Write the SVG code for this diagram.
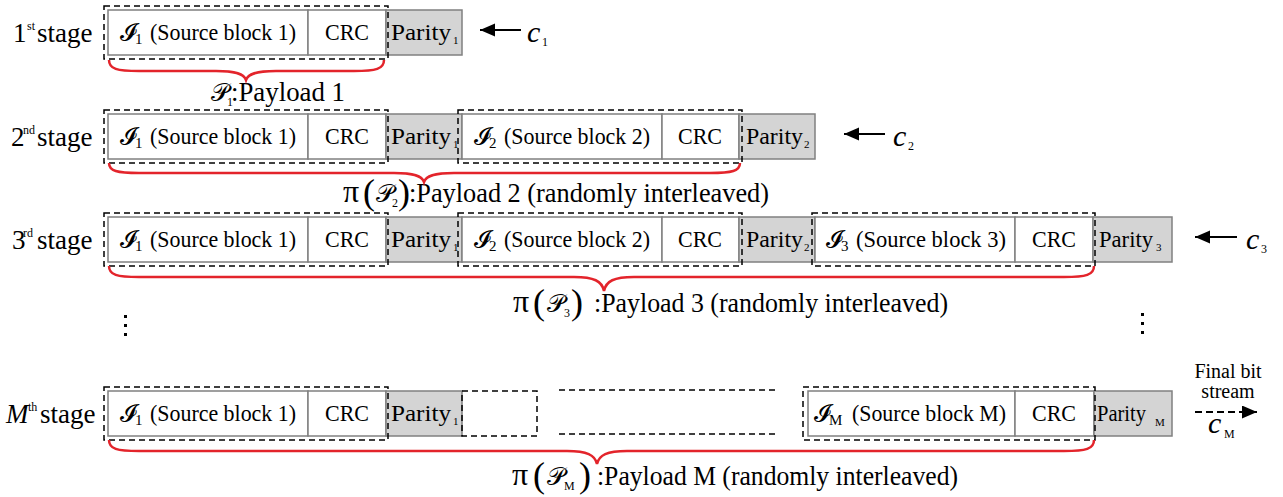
<svg xmlns="http://www.w3.org/2000/svg" width="1283" height="497" viewBox="0 0 1283 497">
<defs>
<style>
text{font-family:"Liberation Serif","Times New Roman",serif;fill:#000}
.cell{fill:#fff;stroke:#808080;stroke-width:1.5}
.par{fill:#d4d4d4;stroke:#808080;stroke-width:1.5}
.dash{fill:none;stroke:#000;stroke-width:1.5;stroke-dasharray:6 4}
.brace{fill:none;stroke:#e3242b;stroke-width:2.5}
.stg{font-size:27px}
.sup{font-size:12px}
.ct{font-size:24px}
.cal{font-family:"DejaVu Sans","Noto Sans",sans-serif;font-size:24px}
.calp{font-family:"DejaVu Sans","Noto Sans",sans-serif;font-size:25px}
.sd{font-size:15px}
.pt{font-size:24px}
.ps{font-size:11px}
.lab{font-size:28px}
.pi{font-size:32px}
.bp{font-size:36px}
.ls{font-size:12px}
.ci{font-style:italic;font-size:30px}
.arr{stroke:#000;stroke-width:2;fill:none}
.dots{fill:#000}
</style>
<marker id="ah" markerUnits="userSpaceOnUse" markerWidth="16" markerHeight="14" refX="15" refY="6.5" orient="auto">
<path d="M0,0 L15,6.5 L0,13 z" fill="#000"/>
</marker>
</defs>

<!-- Stage labels -->
<g id="stage-labels">
<text class="stg" x="13" y="42">1</text><text class="sup" x="27" y="30">st</text><text class="stg" x="37" y="42">stage</text>
<text class="stg" x="11" y="146">2</text><text class="sup" x="23" y="134">nd</text><text class="stg" x="37" y="146">stage</text>
<text class="stg" x="12" y="249">3</text><text class="sup" x="23" y="237">rd</text><text class="stg" x="37" y="249">stage</text>
<text class="stg" x="6" y="423" font-style="italic">M</text><text class="sup" x="28" y="411">th</text><text class="stg" x="40" y="423">stage</text>
</g>

<!-- Row 1 -->
<g id="r1-block1">
<rect class="cell" x="108" y="10" width="200" height="45"/>
<rect class="cell" x="308" y="10" width="78" height="45"/>
<rect class="par" x="386" y="10" width="76" height="45"/>
<rect class="dash" x="104" y="6" width="284" height="53"/>
<text class="cal" x="120" y="40">𝓘</text><text class="sd" x="135" y="44">1</text>
<text class="ct" x="150" y="40" textLength="146" lengthAdjust="spacingAndGlyphs">(Source block 1)</text>
<text class="ct" x="347" y="40" text-anchor="middle" textLength="44" lengthAdjust="spacingAndGlyphs">CRC</text>
<text class="pt" x="391" y="40" textLength="60" lengthAdjust="spacingAndGlyphs">Parity</text><text class="ps" x="453" y="44">1</text>
</g>

<!-- Row 2 -->
<g id="r2-block1">
<rect class="cell" x="108" y="114" width="200" height="45"/>
<rect class="cell" x="308" y="114" width="78" height="45"/>
<rect class="par" x="386" y="114" width="76" height="45"/>
<rect class="dash" x="104" y="110" width="284" height="53"/>
<text class="cal" x="120" y="144">𝓘</text><text class="sd" x="135" y="148">1</text>
<text class="ct" x="150" y="144" textLength="146" lengthAdjust="spacingAndGlyphs">(Source block 1)</text>
<text class="ct" x="347" y="144" text-anchor="middle" textLength="44" lengthAdjust="spacingAndGlyphs">CRC</text>
<text class="pt" x="391" y="144" textLength="60" lengthAdjust="spacingAndGlyphs">Parity</text><text class="ps" x="453" y="148">1</text>
</g>
<g id="r2-block2">
<rect class="cell" x="462" y="114" width="200" height="45"/>
<rect class="cell" x="662" y="114" width="77" height="45"/>
<rect class="par" x="739" y="114" width="76" height="45"/>
<rect class="dash" x="458" y="110" width="284" height="53"/>
<text class="cal" x="474" y="144">𝓘</text><text class="sd" x="489" y="148">2</text>
<text class="ct" x="504" y="144" textLength="146" lengthAdjust="spacingAndGlyphs">(Source block 2)</text>
<text class="ct" x="700" y="144" text-anchor="middle" textLength="44" lengthAdjust="spacingAndGlyphs">CRC</text>
<text class="pt" x="746" y="144" textLength="57" lengthAdjust="spacingAndGlyphs">Parity</text><text class="ps" x="804" y="148" font-size="13">2</text>
</g>

<!-- Row 3 -->
<g id="r3-block1">
<rect class="cell" x="108" y="217" width="200" height="45"/>
<rect class="cell" x="308" y="217" width="78" height="45"/>
<rect class="par" x="386" y="217" width="76" height="45"/>
<rect class="dash" x="104" y="213" width="284" height="53"/>
<text class="cal" x="120" y="247">𝓘</text><text class="sd" x="135" y="251">1</text>
<text class="ct" x="150" y="247" textLength="146" lengthAdjust="spacingAndGlyphs">(Source block 1)</text>
<text class="ct" x="347" y="247" text-anchor="middle" textLength="44" lengthAdjust="spacingAndGlyphs">CRC</text>
<text class="pt" x="391" y="247" textLength="60" lengthAdjust="spacingAndGlyphs">Parity</text><text class="ps" x="453" y="251">1</text>
</g>
<g id="r3-block2">
<rect class="cell" x="462" y="217" width="200" height="45"/>
<rect class="cell" x="662" y="217" width="77" height="45"/>
<rect class="par" x="739" y="217" width="76" height="45"/>
<rect class="dash" x="458" y="213" width="284" height="53"/>
<text class="cal" x="474" y="247">𝓘</text><text class="sd" x="489" y="251">2</text>
<text class="ct" x="504" y="247" textLength="146" lengthAdjust="spacingAndGlyphs">(Source block 2)</text>
<text class="ct" x="700" y="247" text-anchor="middle" textLength="44" lengthAdjust="spacingAndGlyphs">CRC</text>
<text class="pt" x="746" y="247" textLength="57" lengthAdjust="spacingAndGlyphs">Parity</text><text class="ps" x="804" y="251" font-size="13">2</text>
</g>
<g id="r3-block3">
<rect class="cell" x="815" y="217" width="200" height="45"/>
<rect class="cell" x="1015" y="217" width="78" height="45"/>
<rect class="par" x="1093" y="217" width="79" height="45"/>
<rect class="dash" x="812" y="213" width="283" height="53"/>
<text class="cal" x="826" y="247">𝓘</text><text class="sd" x="841" y="251">3</text>
<text class="ct" x="856" y="247" textLength="150" lengthAdjust="spacingAndGlyphs">(Source block 3)</text>
<text class="ct" x="1054" y="247" text-anchor="middle" textLength="44" lengthAdjust="spacingAndGlyphs">CRC</text>
<text class="pt" x="1099" y="247" textLength="54" lengthAdjust="spacingAndGlyphs">Parity</text><text class="ps" x="1156" y="251">3</text>
</g>

<!-- Row M -->
<g id="rM-block1">
<rect class="cell" x="108" y="391" width="200" height="45"/>
<rect class="cell" x="308" y="391" width="78" height="45"/>
<rect class="par" x="386" y="391" width="76" height="45"/>
<rect class="dash" x="104" y="387" width="284" height="53"/>
<text class="cal" x="120" y="421">𝓘</text><text class="sd" x="135" y="425">1</text>
<text class="ct" x="150" y="421" textLength="146" lengthAdjust="spacingAndGlyphs">(Source block 1)</text>
<text class="ct" x="347" y="421" text-anchor="middle" textLength="44" lengthAdjust="spacingAndGlyphs">CRC</text>
<text class="pt" x="391" y="421" textLength="60" lengthAdjust="spacingAndGlyphs">Parity</text><text class="ps" x="453" y="425">1</text>
</g>
<g id="rM-gap">
<rect class="dash" x="462" y="391" width="75" height="45"/>
<line class="dash" x1="559" y1="390" x2="775" y2="390"/>
<line class="dash" x1="559" y1="434" x2="775" y2="434"/>
</g>
<g id="rM-blockM">
<rect class="cell" x="808" y="391" width="207" height="45"/>
<rect class="cell" x="1015" y="391" width="79" height="45"/>
<rect class="par" x="1094" y="391" width="78" height="45"/>
<rect class="dash" x="803" y="387" width="292" height="53"/>
<text class="cal" x="814" y="421">𝓘</text><text class="sd" x="829" y="425" font-size="14">M</text>
<text class="ct" x="852" y="421" textLength="154" lengthAdjust="spacingAndGlyphs">(Source block M)</text>
<text class="ct" x="1054" y="421" text-anchor="middle" textLength="44" lengthAdjust="spacingAndGlyphs">CRC</text>
<text class="pt" x="1097" y="421" textLength="49" lengthAdjust="spacingAndGlyphs">Parity</text><text class="ps" x="1155" y="426" font-size="10">M</text>
</g>

<!-- Codeword labels -->
<g id="codewords">
<text class="ci" x="527" y="42">c</text><text class="ls" x="542" y="46">1</text>
<text class="ci" x="893" y="146">c</text><text class="ls" x="908" y="150">2</text>
<text class="ci" x="1246" y="249">c</text><text class="ls" x="1261" y="253">3</text>
<text x="1228" y="378" font-size="20" text-anchor="middle">Final bit</text>
<text x="1228" y="398" font-size="20" text-anchor="middle">stream</text>
<text class="ci" x="1208" y="433">c</text><text class="ls" x="1224" y="438" font-size="13">M</text>
</g>

<!-- Payload labels -->
<g id="payload-labels">
<text class="calp" x="211" y="101">𝒫</text><text class="ls" x="227" y="106">1</text><text class="lab" x="231" y="101" textLength="114" lengthAdjust="spacingAndGlyphs">:Payload 1</text>

<text class="pi" x="343" y="202">π</text><text class="bp" x="363" y="204">(</text><text class="calp" x="376" y="202">𝒫</text><text class="ls" x="392" y="207">2</text><text class="bp" x="398" y="204">)</text><text class="lab" x="409" y="202" textLength="360" lengthAdjust="spacingAndGlyphs">:Payload 2 (randomly interleaved)</text>

<text class="pi" x="513" y="312">π</text><text class="bp" x="533" y="314">(</text><text class="calp" x="547" y="312">𝒫</text><text class="ls" x="564" y="317">3</text><text class="bp" x="571" y="314">)</text><text class="lab" x="594" y="312" textLength="354" lengthAdjust="spacingAndGlyphs">:Payload 3 (randomly interleaved)</text>

<text class="pi" x="512" y="485">π</text><text class="bp" x="533" y="487">(</text><text class="calp" x="547" y="485">𝒫</text><text class="ls" x="564" y="490">M</text><text class="bp" x="579" y="487">)</text><text class="lab" x="597" y="485" textLength="361" lengthAdjust="spacingAndGlyphs">:Payload M (randomly interleaved)</text>
</g>

<!-- Vertical ellipses -->
<g id="ellipses" class="dots">
<rect x="124" y="315" width="3" height="3"/><rect x="124" y="324" width="3" height="3"/><rect x="124" y="333" width="3" height="3"/>
<rect x="1141" y="313" width="3" height="3"/><rect x="1141" y="322" width="3" height="3"/><rect x="1141" y="331" width="3" height="3"/>
</g>

<!-- Connectors -->
<g id="connectors">
<path class="brace" d="M109 60 C109 69 117 71 139 71 L216 71 C236 71 244 74 246 80 C248 74 256 71 276 71 L354 71 C376 71 384 69 384 60"/>
<path class="brace" d="M109 163 C109 171 117 173 139 173 L394 173 C414 173 422 176 424 182 C426 176 434 173 454 173 L710 173 C732 173 740 171 740 163"/>
<path class="brace" d="M109 266 C109 275 117 277 139 277 L574 277 C594 277 602 281 604 291 C606 281 614 277 634 277 L1064 277 C1086 277 1094 275 1094 266"/>
<path class="brace" d="M109 440 C109 449 117 451 139 451 L567 451 C587 451 595 455 597 464 C599 455 607 451 627 451 L1064 451 C1086 451 1094 449 1094 440"/>
<line class="arr" x1="521" y1="30" x2="480" y2="30" marker-end="url(#ah)"/>
<line class="arr" x1="885" y1="134" x2="844" y2="134" marker-end="url(#ah)"/>
<line class="arr" x1="1237" y1="237" x2="1195" y2="237" marker-end="url(#ah)"/>
<line class="arr" x1="1195" y1="412" x2="1257" y2="412" stroke-dasharray="7 4" marker-end="url(#ah)"/>
</g>
</svg>
